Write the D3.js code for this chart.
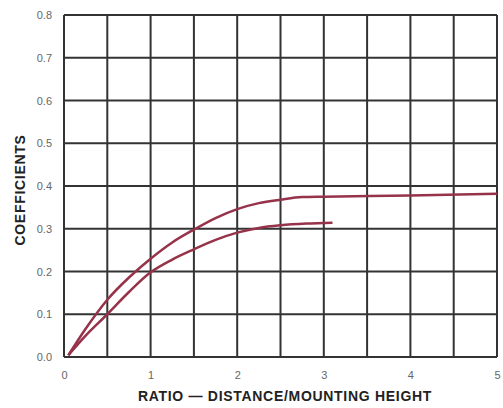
<!DOCTYPE html>
<html><head><meta charset="utf-8">
<script src="https://cdn.jsdelivr.net/npm/d3@7"></script>
<style>body{margin:0;background:#fff}svg{display:block}</style>
</head><body>
<svg id="c" width="503" height="408"></svg>
<script>
const xTicks = [0,1,2,3,4,5];
const yTicks = [0,0.1,0.2,0.3,0.4,0.5,0.6,0.7,0.8];
const xGrid = [0,0.5,1,1.5,2,2.5,3,3.5,4,4.5,5];
const upperX = [0.05,0.25,0.5,0.75,1.0,1.25,1.5,1.75,2.0,2.25,2.5,2.75,3.0,4.0,5.0];
const upperY = [0.004,0.066,0.134,0.186,0.23,0.268,0.298,0.325,0.346,0.36,0.368,0.374,0.375,0.378,0.382];
const lowerX = [0.05,0.25,0.5,0.75,1.0,1.25,1.5,1.75,2.0,2.25,2.5,2.8,3.1];
const lowerY = [0.004,0.05,0.1,0.152,0.198,0.228,0.252,0.274,0.291,0.302,0.308,0.312,0.314];

const svg = d3.select("#c");
const L=64, R=497, T=15, B=357;
const x = d3.scaleLinear().domain([0,5]).range([L,R]);
const y = d3.scaleLinear().domain([0,0.8]).range([B,T]);
const gridCol="#333";

svg.append("g").selectAll("line").data(xGrid).join("line")
  .attr("x1",d=>x(d)).attr("x2",d=>x(d)).attr("y1",T).attr("y2",B)
  .attr("stroke",gridCol).attr("stroke-width",2);
svg.append("g").selectAll("line").data(yTicks).join("line")
  .attr("x1",L).attr("x2",R).attr("y1",d=>y(d)).attr("y2",d=>y(d))
  .attr("stroke",gridCol).attr("stroke-width",2);

const xa = svg.append("g").attr("transform",`translate(0,${B})`)
  .call(d3.axisBottom(x).tickValues(xTicks).tickFormat(d3.format("d")).tickSize(0).tickPadding(14));
xa.select(".domain").remove();
xa.selectAll("text").attr("font-family","Liberation Sans, Arial, sans-serif").attr("font-size",11).attr("fill","#666");

const ya = svg.append("g").attr("transform",`translate(${L},0)`)
  .call(d3.axisLeft(y).tickValues(yTicks).tickFormat(d3.format(".1f")).tickSize(0).tickPadding(12));
ya.select(".domain").remove();
ya.selectAll("text").attr("font-family","Liberation Sans, Arial, sans-serif").attr("font-size",11).attr("fill","#666");

const line = d3.line().x(d=>x(d[0])).y(d=>y(d[1])).curve(d3.curveMonotoneX);
const col="#96334a";
svg.append("path").datum(upperX.map((v,i)=>[v,upperY[i]])).attr("d",line)
  .attr("fill","none").attr("stroke",col).attr("stroke-width",2.5);
svg.append("path").datum(lowerX.map((v,i)=>[v,lowerY[i]])).attr("d",line)
  .attr("fill","none").attr("stroke",col).attr("stroke-width",2.5);

svg.append("text").attr("x",285).attr("y",401).attr("text-anchor","middle")
  .attr("font-family","Liberation Sans, Arial, sans-serif").attr("font-weight","bold")
  .attr("font-size",14).attr("fill","#222").attr("letter-spacing",0.7)
  .text("RATIO — DISTANCE/MOUNTING HEIGHT");
svg.append("text").attr("transform","translate(25,190) rotate(-90)").attr("text-anchor","middle")
  .attr("font-family","Liberation Sans, Arial, sans-serif").attr("font-weight","bold")
  .attr("font-size",14).attr("fill","#222").attr("letter-spacing",0.7)
  .text("COEFFICIENTS");
</script>
</body></html>
